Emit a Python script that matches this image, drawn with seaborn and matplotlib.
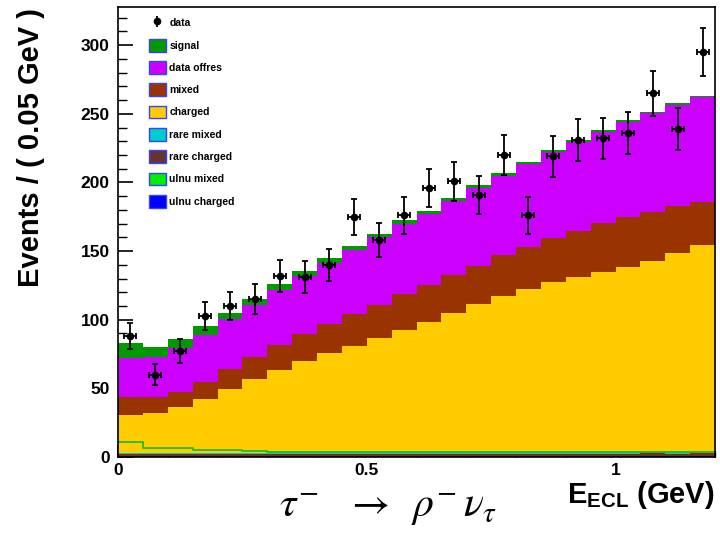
import numpy as np
import pandas as pd
import matplotlib
matplotlib.use("Agg")
import matplotlib.pyplot as plt
from matplotlib.patches import Patch
from matplotlib.ticker import MultipleLocator, FixedLocator
import seaborn as sns

# ---------------- data ----------------
bin_edges = [round(0.05 * k, 2) for k in range(25)]   # 0.05 GeV bins
bin_centers = [0.5 * (a + b) for a, b in zip(bin_edges[:-1], bin_edges[1:])]

data_counts = [88, 60, 77, 103, 110, 115, 132, 131, 140, 175, 158, 176,
               196, 201, 191, 220, 176, 219, 231, 232, 236, 265, 239, 295]

signal = [11.0, 7.0, 6.5, 7.0, 4.5, 4.5, 4.0, 4.0, 3.7, 3.2, 2.7, 2.5,
          2.2, 2.0, 2.0, 1.8, 1.7, 1.6, 1.5, 1.4, 1.3, 1.2, 1.1, 1.0]
data_offres = [28.3, 29.6, 32.0, 33.8, 36.2, 37.8, 39.8, 41.9, 44.1, 46.3, 49.0, 51.6,
               51.8, 53.9, 56.9, 57.7, 60.3, 62.7, 64.5, 66.5, 69.4, 71.7, 73.7, 76.0]
mixed = [13.1, 11.4, 11.4, 12.6, 14.7, 16.4, 18.5, 19.6, 21.4, 23.5, 24.6, 25.9,
         26.7, 27.8, 28.1, 29.8, 30.9, 31.6, 33.6, 35.2, 36.2, 35.9, 34.0, 31.6]
charged = [27.8, 29.5, 33.5, 39.6, 46.6, 53.9, 60.7, 67.5, 72.8, 78.2, 83.7, 89.8,
           95.8, 102.0, 108.4, 114.6, 119.5, 125.0, 128.6, 132.3, 135.9, 139.3, 146.1, 151.3]
rare_mixed = [0.4] * 24
rare_charged = [2.0] * 24
ulnu_mixed = [8.4, 3.8, 3.5, 2.6, 2.1, 1.7, 1.2, 1.0, 0.9, 0.8, 0.9, 0.9,
              0.8, 0.7, 0.8, 0.9, 0.8, 0.9, 0.6, 0.6, 0.8, 0.5, 0.7, 0.3]
ulnu_charged = [0.3, 0.3, 0.3, 0.3, 0.3, 0.3, 0.3, 0.3, 0.3, 0.3, 0.3, 0.3,
                0.3, 0.3, 0.3, 0.3, 0.3, 0.3, 0.3, 0.3, 0.3, 1.0, 0.3, 0.6]

legend_labels = ["signal", "data offres", "mixed", "charged", "rare mixed",
                 "rare charged", "ulnu mixed", "ulnu charged"]
colors = {"signal": "#009900", "data offres": "#cc00ff", "mixed": "#993300",
          "charged": "#ffcc00", "rare mixed": "#00cccc", "rare charged": "#663333",
          "ulnu mixed": "#00ee00", "ulnu charged": "#0000ff"}

# ---------------- style ----------------
sns.set_theme(style="white")
plt.rcParams["font.family"] = ["Liberation Sans", "DejaVu Sans"]
plt.rcParams["text.color"] = "black"
plt.rcParams["xtick.color"] = "black"
plt.rcParams["ytick.color"] = "black"
plt.rcParams["axes.labelcolor"] = "black"
plt.rcParams["mathtext.fontset"] = "custom"
plt.rcParams["mathtext.rm"] = "Liberation Sans:bold"
plt.rcParams["mathtext.bf"] = "Liberation Sans:bold"
plt.rcParams["mathtext.it"] = "Liberation Sans:bold"

fig = plt.figure(figsize=(7.2, 5.34), dpi=100)
ax = fig.add_axes([118 / 720, 1 - 457 / 534, (715 - 118) / 720, (457 - 6.7) / 534])

# stacked histogram (top first in hue order)
stack_order = ["signal", "data offres", "mixed", "charged", "rare mixed",
               "rare charged", "ulnu charged"]
series = {"signal": signal, "data offres": data_offres, "mixed": mixed,
          "charged": charged, "rare mixed": rare_mixed,
          "rare charged": rare_charged, "ulnu charged": ulnu_charged}
rows = []
for name in stack_order:
    for c, v in zip(bin_centers, series[name]):
        rows.append((c, v, name))
df = pd.DataFrame(rows, columns=["E", "w", "comp"])

sns.histplot(data=df, x="E", weights="w", hue="comp", hue_order=stack_order,
             multiple="stack", bins=bin_edges, element="step", fill=True,
             palette=colors, alpha=1, linewidth=0, legend=False, ax=ax)

# ulnu mixed drawn as an outline above the bottom rare/ulnu band
band = np.array(ulnu_charged) + np.array(rare_charged) + np.array(rare_mixed)
line_df = pd.DataFrame({"E": bin_centers, "w": band + np.array(ulnu_mixed)})
sns.histplot(data=line_df, x="E", weights="w", bins=bin_edges,
             element="step", fill=False, color="#11bb11", linewidth=1.2, ax=ax)

# data points
counts = np.array(data_counts, dtype=float)
ax.errorbar(bin_centers, counts, yerr=np.sqrt(counts), xerr=0.012, fmt="o",
            color="black", ms=4.5, elinewidth=1.3, capsize=2, capthick=1.3, zorder=5)

ax.set_xlim(0, 1.2)
ax.set_ylim(0, 328)
ax.set_xlabel("")
ax.set_ylabel("")

ax.xaxis.set_major_locator(FixedLocator([0, 0.5, 1.0]))
ax.set_xticklabels(["0", "0.5", "1"])
ax.xaxis.set_minor_locator(MultipleLocator(0.1))
ax.yaxis.set_major_locator(MultipleLocator(50))
ax.yaxis.set_minor_locator(MultipleLocator(10))
ax.tick_params(axis="y", which="major", direction="in", length=11, width=1.2,
               labelsize=12.5, pad=6, left=True, right=False, colors="black")
ax.tick_params(axis="y", which="minor", direction="in", length=6.5, width=1.0,
               left=True, right=False, colors="black")
ax.tick_params(axis="x", which="major", direction="in", length=8.6, width=1.2,
               labelsize=12.5, pad=4, bottom=True, top=False, colors="black")
ax.tick_params(axis="x", which="minor", direction="in", length=4.3, width=1.0,
               bottom=True, top=False, colors="black")
for lab in ax.get_xticklabels() + ax.get_yticklabels():
    lab.set_fontweight("bold")
for sp in ax.spines.values():
    sp.set_color("black")
    sp.set_linewidth(1.2)
    sp.set_zorder(10)

# titles
fig.text(31 / 720, 1 - 8 / 534, "Events / ( 0.05 GeV )", rotation=90,
         ha="center", va="top", fontsize=21, fontweight="bold", color="black")
fig.text(715 / 720, 1 - 495 / 534, r"$\mathbf{E_{ECL}}$ (GeV)",
         ha="right", va="center", fontsize=21, fontweight="bold", color="black")
fig.text(388 / 720, 1 - 508 / 534,
         r"$\tau^{-}\;\;\;\rightarrow\;\;\rho^{-}\,\nu_{\tau}$",
         ha="center", va="center", fontsize=30, fontweight="normal",
         math_fontfamily="stix", color="black")

# legend
data_handle = ax.errorbar([np.nan], [np.nan], yerr=[1.0], fmt="o", color="black",
                          ms=4.5, elinewidth=1.3, capsize=0)
handles = [data_handle]
for name in legend_labels:
    handles.append(Patch(facecolor=colors[name], edgecolor="#3344ff", linewidth=1.0))
leg = ax.legend(handles, ["data"] + legend_labels, loc="upper left",
                bbox_to_anchor=(149 / 720, 1 - 16.5 / 534),
                bbox_transform=fig.transFigure, frameon=False,
                handlelength=1.6, handleheight=1.5,
                handletextpad=0.35, labelspacing=0.92, borderpad=0,
                borderaxespad=0, prop={"weight": "bold", "size": 7.5})
for t in leg.get_texts():
    t.set_color("black")

fig.savefig("out.png", dpi=100)
